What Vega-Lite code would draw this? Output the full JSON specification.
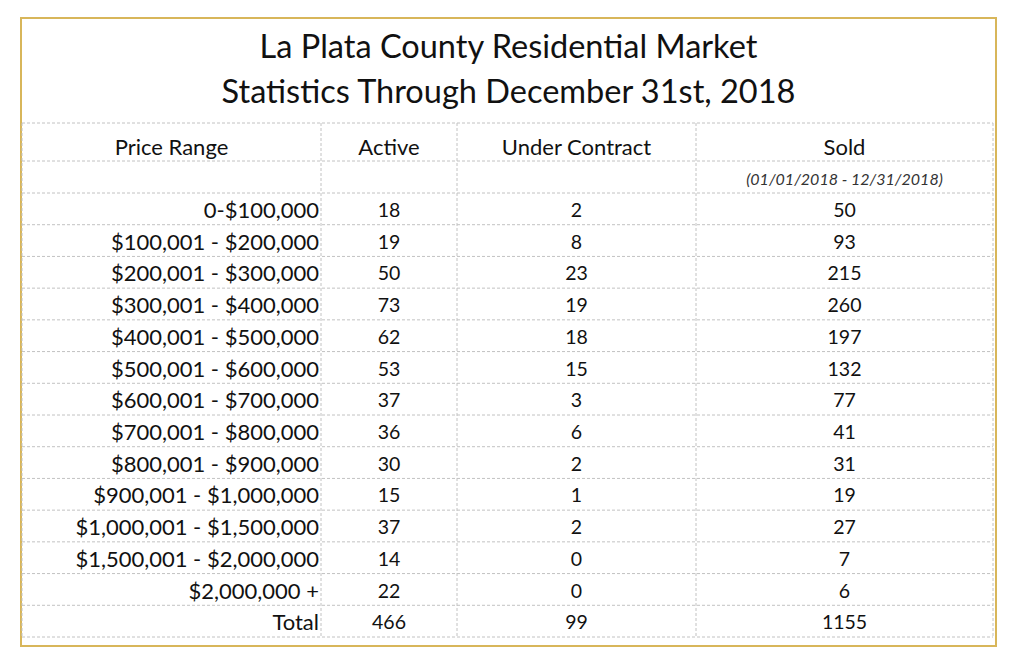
{
  "$schema": "https://vega.github.io/schema/vega-lite/v6.json",
  "width": 975,
  "height": 628,
  "autosize": {"type": "none"},
  "padding": {"left": 21, "top": 18, "right": 15, "bottom": 15},
  "background": "white",
  "config": {
    "view": {"stroke": "#d8b65a", "strokeWidth": 2},
    "font": "Lato",
    "text": {"font": "Lato", "color": "#111111"}
  },
  "title": {
    "text": ["La Plata County Residential Market", "Statistics Through December 31st, 2018"],
    "font": "Lato",
    "fontSize": 32.5,
    "fontWeight": "normal",
    "lineHeight": 45,
    "color": "#111111",
    "anchor": "middle",
    "orient": "top",
    "frame": "group",
    "offset": -91
  },
  "datasets": {
    "rows": [
      {"row": 2, "range": "0-$100,000", "active": 18, "uc": 2, "sold": 50},
      {"row": 3, "range": "$100,001 - $200,000", "active": 19, "uc": 8, "sold": 93},
      {"row": 4, "range": "$200,001 - $300,000", "active": 50, "uc": 23, "sold": 215},
      {"row": 5, "range": "$300,001 - $400,000", "active": 73, "uc": 19, "sold": 260},
      {"row": 6, "range": "$400,001 - $500,000", "active": 62, "uc": 18, "sold": 197},
      {"row": 7, "range": "$500,001 - $600,000", "active": 53, "uc": 15, "sold": 132},
      {"row": 8, "range": "$600,001 - $700,000", "active": 37, "uc": 3, "sold": 77},
      {"row": 9, "range": "$700,001 - $800,000", "active": 36, "uc": 6, "sold": 41},
      {"row": 10, "range": "$800,001 - $900,000", "active": 30, "uc": 2, "sold": 31},
      {"row": 11, "range": "$900,001 - $1,000,000", "active": 15, "uc": 1, "sold": 19},
      {"row": 12, "range": "$1,000,001 - $1,500,000", "active": 37, "uc": 2, "sold": 27},
      {"row": 13, "range": "$1,500,001 - $2,000,000", "active": 14, "uc": 0, "sold": 7},
      {"row": 14, "range": "$2,000,000 +", "active": 22, "uc": 0, "sold": 6},
      {"row": 15, "range": "Total", "active": 466, "uc": 99, "sold": 1155}
    ],
    "hlines": [
      {"b": 0}, {"b": 1}, {"b": 2}, {"b": 3}, {"b": 4}, {"b": 5}, {"b": 6}, {"b": 7}, {"b": 8},
      {"b": 9}, {"b": 10}, {"b": 11}, {"b": 12}, {"b": 13}, {"b": 14}, {"b": 15}, {"b": 16}
    ],
    "vlines": [{"c": 0}, {"c": 1}, {"c": 2}, {"c": 3}, {"c": 4}]
  },
  "layer": [
    {
      "data": {"name": "hlines"},
      "mark": {"type": "rule", "color": "#c2c2c2", "strokeWidth": 1, "strokeDash": [3, 2]},
      "encoding": {
        "y": {"field": "b", "type": "quantitative", "axis": null,
              "scale": {"domain": [0, 1, 2, 16], "range": [105, 143, 175, 619]}},
        "x": {"datum": 0, "type": "quantitative", "axis": null,
              "scale": {"domain": [0, 1, 2, 3, 4], "range": [1, 300, 436, 675, 972]}},
        "x2": {"datum": 4}
      }
    },
    {
      "data": {"name": "vlines"},
      "mark": {"type": "rule", "color": "#c2c2c2", "strokeWidth": 1, "strokeDash": [3, 2]},
      "encoding": {
        "x": {"field": "c", "type": "quantitative", "axis": null,
              "scale": {"domain": [0, 1, 2, 3, 4], "range": [1, 300, 436, 675, 972]}},
        "y": {"datum": 0, "type": "quantitative", "axis": null,
              "scale": {"domain": [0, 1, 2, 16], "range": [105, 143, 175, 619]}},
        "y2": {"datum": 16}
      }
    },
    {
      "data": {"values": [{"h": "Price Range"}]},
      "mark": {"type": "text", "fontSize": 22, "baseline": "middle", "align": "center", "dy": 25},
      "encoding": {
        "text": {"field": "h"},
        "x": {"datum": 0.5, "type": "quantitative"},
        "y": {"datum": 0, "type": "quantitative"}
      }
    },
    {
      "data": {"values": [{"h": "Active"}]},
      "mark": {"type": "text", "fontSize": 22, "baseline": "middle", "align": "center", "dy": 25},
      "encoding": {
        "text": {"field": "h"},
        "x": {"datum": 1.5, "type": "quantitative"},
        "y": {"datum": 0, "type": "quantitative"}
      }
    },
    {
      "data": {"values": [{"h": "Under Contract"}]},
      "mark": {"type": "text", "fontSize": 22, "baseline": "middle", "align": "center", "dy": 25},
      "encoding": {
        "text": {"field": "h"},
        "x": {"datum": 2.5, "type": "quantitative"},
        "y": {"datum": 0, "type": "quantitative"}
      }
    },
    {
      "data": {"values": [{"h": "Sold"}]},
      "mark": {"type": "text", "fontSize": 22, "baseline": "middle", "align": "center", "dy": 25},
      "encoding": {
        "text": {"field": "h"},
        "x": {"datum": 3.5, "type": "quantitative"},
        "y": {"datum": 0, "type": "quantitative"}
      }
    },
    {
      "data": {"values": [{"h": "(01/01/2018 - 12/31/2018)"}]},
      "mark": {"type": "text", "fontSize": 16, "fontStyle": "italic", "baseline": "middle", "align": "center", "dy": 19, "color": "#333333"},
      "encoding": {
        "text": {"field": "h"},
        "x": {"datum": 3.5, "type": "quantitative"},
        "y": {"datum": 1, "type": "quantitative"}
      }
    },
    {
      "data": {"name": "rows"},
      "mark": {"type": "text", "fontSize": 22, "baseline": "middle", "align": "right", "dx": -2, "dy": 18},
      "encoding": {
        "text": {"field": "range"},
        "x": {"datum": 1, "type": "quantitative"},
        "y": {"field": "row", "type": "quantitative"}
      }
    },
    {
      "data": {"name": "rows"},
      "mark": {"type": "text", "fontSize": 19.5, "baseline": "middle", "align": "center", "dy": 18},
      "encoding": {
        "text": {"field": "active"},
        "x": {"datum": 1.5, "type": "quantitative"},
        "y": {"field": "row", "type": "quantitative"}
      }
    },
    {
      "data": {"name": "rows"},
      "mark": {"type": "text", "fontSize": 19.5, "baseline": "middle", "align": "center", "dy": 18},
      "encoding": {
        "text": {"field": "uc"},
        "x": {"datum": 2.5, "type": "quantitative"},
        "y": {"field": "row", "type": "quantitative"}
      }
    },
    {
      "data": {"name": "rows"},
      "mark": {"type": "text", "fontSize": 19.5, "baseline": "middle", "align": "center", "dy": 18},
      "encoding": {
        "text": {"field": "sold"},
        "x": {"datum": 3.5, "type": "quantitative"},
        "y": {"field": "row", "type": "quantitative"}
      }
    }
  ]
}
